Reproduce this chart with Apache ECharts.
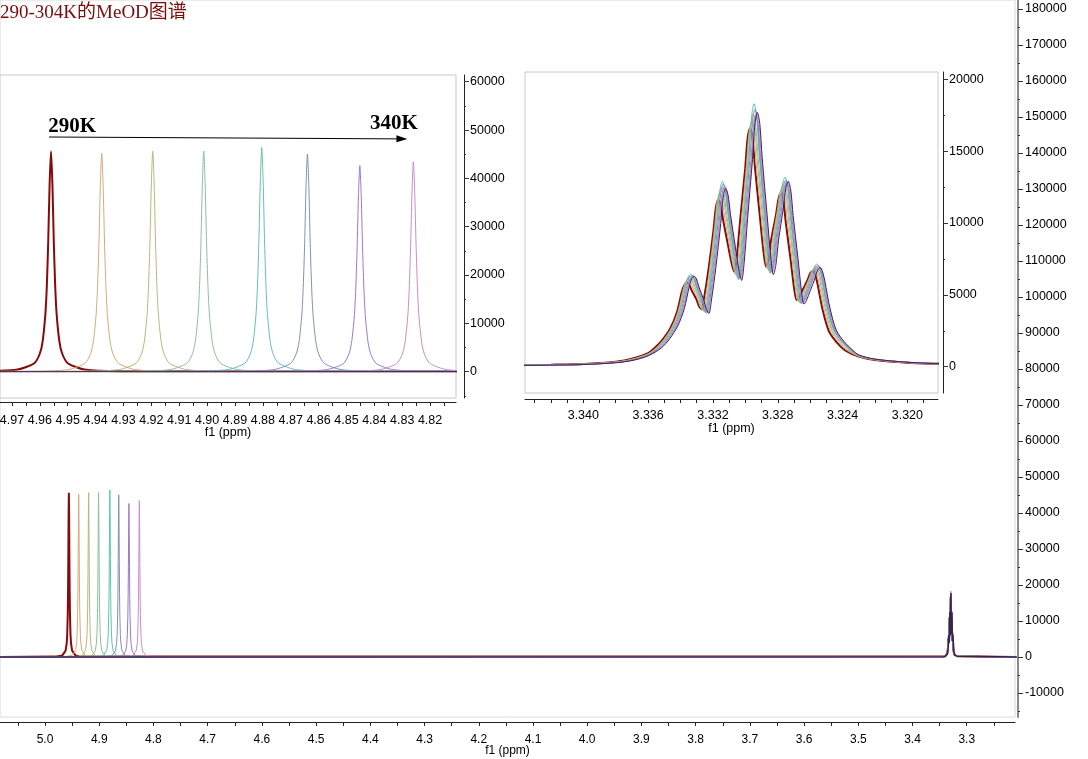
<!DOCTYPE html>
<html><head><meta charset="utf-8">
<script src="https://cdn.jsdelivr.net/npm/echarts@6/dist/echarts.min.js"></script>
<style>html,body{margin:0;padding:0;background:#fff}#c{width:1088px;height:759px}</style>
</head><body><div id="c"></div>
<script>
// ---------- data (ppm, intensity) ----------
const seriesNames = ['290K','297K','304K','311K','318K','325K','333K','340K','ref'];
const seriesColors = ['#870a0a','#d4aa78','#b5b87c','#8cc09c','#5fc2b2','#7d93b8','#9a78cc','#c98ccc','#34244f'];
const baseStart = [5.10, 0];
const baseEnd = [3.20, 0];

const oh290 = [[4.981,105],[4.968,451],[4.962,1756],[4.960,3767],[4.959,6293],[4.958,12084],[4.9575,17784],[4.957,26904],[4.9565,38851],[4.956,45600],[4.9555,38851],[4.955,26904],[4.9545,17784],[4.954,12084],[4.953,6293],[4.952,3767],[4.950,1756],[4.944,451],[4.931,105]];
const oh297 = [[4.9628,104],[4.9498,447],[4.9438,1740],[4.9418,3734],[4.9408,6238],[4.9398,11978],[4.9393,17628],[4.9388,26668],[4.9383,38510],[4.9378,45200],[4.9373,38510],[4.9368,26668],[4.9363,17628],[4.9358,11978],[4.9348,6238],[4.9338,3734],[4.9318,1740],[4.9258,447],[4.9128,104]];
const oh304 = [[4.9445,105],[4.9315,452],[4.9255,1758],[4.9235,3771],[4.9225,6300],[4.9215,12097],[4.9210,17804],[4.9205,26934],[4.9200,38894],[4.9195,45650],[4.9190,38894],[4.9185,26934],[4.9180,17804],[4.9175,12097],[4.9165,6300],[4.9155,3771],[4.9135,1758],[4.9075,452],[4.8945,105]];
const oh311 = [[4.9262,105],[4.9132,452],[4.9072,1758],[4.9052,3771],[4.9042,6300],[4.9032,12097],[4.9027,17804],[4.9022,26934],[4.9017,38894],[4.9012,45650],[4.9007,38894],[4.9002,26934],[4.8997,17804],[4.8992,12097],[4.8982,6300],[4.8972,3771],[4.8952,1758],[4.8892,452],[4.8762,105]];
const oh318 = [[4.9054,107],[4.8924,459],[4.8864,1786],[4.8844,3833],[4.8834,6403],[4.8824,12296],[4.8819,18096],[4.8814,27376],[4.8809,39533],[4.8804,46400],[4.8799,39533],[4.8794,27376],[4.8789,18096],[4.8784,12296],[4.8774,6403],[4.8764,3833],[4.8744,1786],[4.8684,459],[4.8554,107]];
const oh325 = [[4.8890,104],[4.8760,446],[4.8700,1734],[4.8680,3721],[4.8670,6217],[4.8660,11938],[4.8655,17570],[4.8650,26580],[4.8645,38383],[4.8640,45050],[4.8635,38383],[4.8630,26580],[4.8625,17570],[4.8620,11938],[4.8610,6217],[4.8600,3721],[4.8580,1734],[4.8520,446],[4.8390,104]];
const oh333 = [[4.8702,98],[4.8572,422],[4.8512,1642],[4.8492,3522],[4.8482,5884],[4.8472,11300],[4.8467,16630],[4.8462,25158],[4.8457,36329],[4.8452,42640],[4.8447,36329],[4.8442,25158],[4.8437,16630],[4.8432,11300],[4.8422,5884],[4.8412,3522],[4.8392,1642],[4.8332,422],[4.8202,98]];
const oh340 = [[4.8510,100],[4.8380,430],[4.8320,1673],[4.8300,3589],[4.8290,5996],[4.8280,11514],[4.8275,16946],[4.8270,25636],[4.8265,37019],[4.8260,43450],[4.8255,37019],[4.8250,25636],[4.8245,16946],[4.8240,11514],[4.8230,5996],[4.8220,3589],[4.8200,1673],[4.8140,430],[4.8010,100]];
const ohRef = [];

const quint290 = [[3.3440,120],[3.3420,140],[3.3400,190],[3.3380,350],[3.3370,550],[3.3360,950],[3.33562,1290],[3.33512,1870],[3.33462,2690],[3.33422,3800],[3.33392,5210],[3.33377,5670],[3.33362,5850],[3.33347,5720],[3.33332,5330],[3.33302,4680],[3.33285,4180],[3.33270,3990],[3.33255,4750],[3.33227,6810],[3.33197,9470],[3.33182,11070],[3.33167,11600],[3.33152,11250],[3.33137,10200],[3.33107,8460],[3.33083,7110],[3.33068,6610],[3.33053,7610],[3.33031,10310],[3.33001,13800],[3.32986,15900],[3.32971,16600],[3.32956,15930],[3.32941,13900],[3.32911,10530],[3.32887,7920],[3.32872,6960],[3.32857,7470],[3.32840,8850],[3.32810,10640],[3.32795,11710],[3.32780,12070],[3.32765,11550],[3.32750,9990],[3.32720,7390],[3.32698,5380],[3.32683,4640],[3.32668,4840],[3.32644,5390],[3.32614,6090],[3.32599,6520],[3.32584,6660],[3.32569,6390],[3.32554,5730],[3.32524,4000],[3.32484,2460],[3.32434,1670],[3.32384,1130],[3.3230,700],[3.3220,470],[3.3200,280],[3.3180,200]];
const quint297 = [[3.3440,110],[3.3420,130],[3.3400,180],[3.3380,330],[3.3370,520],[3.3360,900],[3.33554,1280],[3.33504,1890],[3.33454,2750],[3.33414,3900],[3.33384,5370],[3.33369,5920],[3.33354,6100],[3.33339,5950],[3.33324,5480],[3.33294,4710],[3.33277,4120],[3.33262,3900],[3.33247,4720],[3.33219,6930],[3.33189,9800],[3.33174,11530],[3.33159,12100],[3.33144,11700],[3.33129,10500],[3.33099,8510],[3.33075,6970],[3.33060,6400],[3.33045,7460],[3.33023,10320],[3.32993,14030],[3.32978,16260],[3.32963,17000],[3.32948,16290],[3.32933,14140],[3.32903,10570],[3.32879,7820],[3.32864,6800],[3.32849,7370],[3.32832,8910],[3.32802,10900],[3.32787,12100],[3.32772,12500],[3.32757,11940],[3.32742,10270],[3.32712,7490],[3.32690,5350],[3.32675,4550],[3.32660,4780],[3.32636,5380],[3.32606,6170],[3.32591,6640],[3.32576,6800],[3.32561,6530],[3.32546,5850],[3.32516,4080],[3.32476,2520],[3.32426,1700],[3.32376,1160],[3.3230,720],[3.3220,480],[3.3200,285],[3.3180,205]];
const quint304 = [[3.3440,110],[3.3420,130],[3.3400,175],[3.3380,320],[3.3370,500],[3.3360,870],[3.33547,1300],[3.33497,1920],[3.33447,2790],[3.33407,3970],[3.33377,5460],[3.33362,6010],[3.33347,6200],[3.33332,6040],[3.33317,5540],[3.33287,4720],[3.33270,4090],[3.33255,3850],[3.33240,4700],[3.33212,6980],[3.33182,9930],[3.33167,11710],[3.33152,12300],[3.33137,11880],[3.33122,10620],[3.33092,8520],[3.33068,6900],[3.33053,6300],[3.33038,7400],[3.33016,10370],[3.32986,14220],[3.32971,16530],[3.32956,17300],[3.32941,16560],[3.32926,14330],[3.32896,10620],[3.32872,7760],[3.32857,6700],[3.32842,7300],[3.32825,8920],[3.32795,11020],[3.32780,12280],[3.32765,12700],[3.32750,12130],[3.32735,10400],[3.32705,7530],[3.32683,5320],[3.32668,4500],[3.32653,4740],[3.32629,5390],[3.32599,6230],[3.32584,6730],[3.32569,6900],[3.32554,6620],[3.32539,5930],[3.32509,4140],[3.32469,2550],[3.32419,1730],[3.32369,1170],[3.3230,740],[3.3220,490],[3.3200,290],[3.3180,205]];
const quint311 = [[3.3440,105],[3.3420,125],[3.3400,170],[3.3380,310],[3.3370,490],[3.3360,850],[3.33542,1320],[3.33492,1950],[3.33442,2840],[3.33402,4030],[3.33372,5540],[3.33357,6110],[3.33342,6300],[3.33327,6130],[3.33312,5600],[3.33282,4730],[3.33265,4050],[3.33250,3800],[3.33235,4670],[3.33207,7020],[3.33177,10060],[3.33162,11890],[3.33147,12500],[3.33132,12060],[3.33117,10740],[3.33087,8530],[3.33063,6830],[3.33048,6200],[3.33033,7340],[3.33011,10420],[3.32981,14410],[3.32966,16800],[3.32951,17600],[3.32936,16830],[3.32921,14530],[3.32891,10700],[3.32867,7750],[3.32852,6650],[3.32837,7280],[3.32820,8960],[3.32790,11150],[3.32775,12460],[3.32760,12900],[3.32745,12310],[3.32730,10530],[3.32700,7580],[3.32678,5300],[3.32663,4450],[3.32648,4710],[3.32624,5390],[3.32594,6290],[3.32579,6820],[3.32564,7000],[3.32549,6720],[3.32534,6020],[3.32504,4200],[3.32464,2590],[3.32414,1750],[3.32364,1190],[3.3230,760],[3.3220,500],[3.3200,295],[3.3180,210]];
const quint318 = [[3.3440,100],[3.3420,120],[3.3400,165],[3.3380,300],[3.3370,470],[3.3360,820],[3.33537,1350],[3.33487,2000],[3.33437,2900],[3.33397,4130],[3.33367,5680],[3.33352,6260],[3.33337,6450],[3.33322,6260],[3.33307,5690],[3.33277,4750],[3.33260,4020],[3.33245,3750],[3.33230,4670],[3.33202,7140],[3.33172,10340],[3.33157,12260],[3.33142,12900],[3.33127,12420],[3.33112,10980],[3.33082,8590],[3.33058,6740],[3.33043,6050],[3.33028,7280],[3.33006,10580],[3.32976,14870],[3.32961,17440],[3.32946,18300],[3.32931,17470],[3.32916,15000],[3.32886,10870],[3.32862,7680],[3.32847,6500],[3.32832,7170],[3.32815,8980],[3.32785,11320],[3.32770,12730],[3.32755,13200],[3.32740,12580],[3.32725,10740],[3.32695,7660],[3.32673,5280],[3.32658,4400],[3.32643,4680],[3.32619,5420],[3.32589,6380],[3.32574,6960],[3.32559,7150],[3.32544,6860],[3.32529,6150],[3.32499,4290],[3.32459,2650],[3.32409,1790],[3.32359,1220],[3.3230,780],[3.3220,510],[3.3200,300],[3.3180,215]];
const quint325 = [[3.3440,100],[3.3420,120],[3.3400,160],[3.3380,295],[3.3370,460],[3.3360,800],[3.33532,1330],[3.33482,1970],[3.33432,2860],[3.33392,4060],[3.33362,5590],[3.33347,6160],[3.33332,6350],[3.33317,6170],[3.33302,5620],[3.33272,4710],[3.33255,4010],[3.33240,3750],[3.33225,4650],[3.33197,7060],[3.33167,10190],[3.33152,12070],[3.33137,12700],[3.33122,12240],[3.33107,10850],[3.33077,8540],[3.33053,6760],[3.33038,6100],[3.33023,7280],[3.33001,10470],[3.32971,14600],[3.32956,17070],[3.32941,17900],[3.32926,17110],[3.32911,14720],[3.32881,10750],[3.32857,7690],[3.32842,6550],[3.32827,7200],[3.32810,8940],[3.32780,11190],[3.32765,12550],[3.32750,13000],[3.32735,12400],[3.32720,10590],[3.32690,7580],[3.32668,5260],[3.32653,4400],[3.32638,4670],[3.32614,5380],[3.32584,6310],[3.32569,6860],[3.32554,7050],[3.32539,6770],[3.32524,6060],[3.32494,4230],[3.32454,2610],[3.32404,1760],[3.32354,1200],[3.3230,790],[3.3220,515],[3.3200,305],[3.3180,215]];
const quint333 = [[3.3440,95],[3.3420,115],[3.3400,155],[3.3380,285],[3.3370,450],[3.3360,780],[3.33526,1320],[3.33476,1950],[3.33426,2840],[3.33386,4030],[3.33356,5540],[3.33341,6110],[3.33326,6300],[3.33311,6130],[3.33296,5600],[3.33266,4730],[3.33249,4050],[3.33234,3800],[3.33219,4670],[3.33191,7020],[3.33161,10060],[3.33146,11890],[3.33131,12500],[3.33116,12060],[3.33101,10740],[3.33071,8530],[3.33047,6830],[3.33032,6200],[3.33017,7330],[3.32995,10380],[3.32965,14340],[3.32950,16710],[3.32935,17500],[3.32920,16740],[3.32905,14460],[3.32875,10670],[3.32851,7740],[3.32836,6650],[3.32821,7280],[3.32804,8960],[3.32774,11150],[3.32759,12460],[3.32744,12900],[3.32729,12310],[3.32714,10530],[3.32684,7580],[3.32662,5300],[3.32647,4450],[3.32632,4710],[3.32608,5390],[3.32578,6290],[3.32563,6820],[3.32548,7000],[3.32533,6720],[3.32518,6020],[3.32488,4200],[3.32448,2590],[3.32398,1750],[3.32348,1190],[3.3230,800],[3.3220,520],[3.3200,310],[3.3180,220]];
const quint340 = [[3.3440,95],[3.3420,115],[3.3400,150],[3.3380,280],[3.3370,440],[3.3360,770],[3.33522,1330],[3.33472,1970],[3.33422,2860],[3.33382,4060],[3.33352,5590],[3.33337,6160],[3.33322,6350],[3.33307,6170],[3.33292,5630],[3.33262,4730],[3.33245,4040],[3.33230,3780],[3.33215,4660],[3.33187,7040],[3.33157,10130],[3.33142,11980],[3.33127,12600],[3.33112,12150],[3.33097,10790],[3.33067,8540],[3.33043,6800],[3.33028,6150],[3.33013,7300],[3.32991,10390],[3.32961,14390],[3.32946,16800],[3.32931,17600],[3.32916,16830],[3.32901,14520],[3.32871,10670],[3.32847,7700],[3.32832,6600],[3.32817,7230],[3.32800,8930],[3.32770,11140],[3.32755,12460],[3.32740,12900],[3.32725,12310],[3.32710,10530],[3.32680,7560],[3.32658,5270],[3.32643,4420],[3.32628,4680],[3.32604,5380],[3.32574,6280],[3.32559,6820],[3.32544,7000],[3.32529,6720],[3.32514,6020],[3.32484,4200],[3.32444,2590],[3.32394,1750],[3.32344,1190],[3.3230,810],[3.3220,525],[3.3200,310],[3.3180,220]];
const quintRef = [[3.3440,90],[3.3420,110],[3.3400,150],[3.3380,275],[3.3370,430],[3.3360,760],[3.33517,1320],[3.33467,1950],[3.33417,2840],[3.33377,4030],[3.33347,5540],[3.33332,6110],[3.33317,6300],[3.33302,6120],[3.33287,5570],[3.33257,4660],[3.33240,3960],[3.33225,3700],[3.33210,4570],[3.33182,6920],[3.33152,9960],[3.33137,11790],[3.33122,12400],[3.33107,11950],[3.33092,10610],[3.33062,8370],[3.33038,6640],[3.33023,6000],[3.33008,7170],[3.32986,10330],[3.32956,14420],[3.32941,16880],[3.32926,17700],[3.32911,16910],[3.32896,14540],[3.32866,10580],[3.32842,7530],[3.32827,6400],[3.32812,7050],[3.32795,8810],[3.32765,11080],[3.32750,12450],[3.32735,12900],[3.32720,12300],[3.32705,10510],[3.32675,7510],[3.32653,5210],[3.32638,4350],[3.32623,4610],[3.32599,5290],[3.32569,6190],[3.32554,6720],[3.32539,6900],[3.32524,6620],[3.32509,5930],[3.32479,4140],[3.32439,2550],[3.32389,1730],[3.32339,1170],[3.3230,820],[3.3220,530],[3.3200,315],[3.3180,225]];

const ohList = [oh290, oh297, oh304, oh311, oh318, oh325, oh333, oh340, ohRef];
const quintList = [quint290, quint297, quint304, quint311, quint318, quint325, quint333, quint340, quintRef];

// tick / label values
const mainXTicks = [3.25,3.3,3.35,3.4,3.45,3.5,3.55,3.6,3.65,3.7,3.75,3.8,3.85,3.9,3.95,4.0,4.05,4.1,4.15,4.2,4.25,4.3,4.35,4.4,4.45,4.5,4.55,4.6,4.65,4.7,4.75,4.8,4.85,4.9,4.95,5.0,5.05];
const mainXLabels = [3.3,3.4,3.5,3.6,3.7,3.8,3.9,4.0,4.1,4.2,4.3,4.4,4.5,4.6,4.7,4.8,4.9,5.0];
const leftXTicks = [4.815,4.82,4.825,4.83,4.835,4.84,4.845,4.85,4.855,4.86,4.865,4.87,4.875,4.88,4.885,4.89,4.895,4.9,4.905,4.91,4.915,4.92,4.925,4.93,4.935,4.94,4.945,4.95,4.955,4.96,4.965,4.97];
const leftXLabels = [4.82,4.83,4.84,4.85,4.86,4.87,4.88,4.89,4.9,4.91,4.92,4.93,4.94,4.95,4.96,4.97];
const rightXTicks = [3.319,3.32,3.321,3.322,3.323,3.324,3.325,3.326,3.327,3.328,3.329,3.33,3.331,3.332,3.333,3.334,3.335,3.336,3.337,3.338,3.339,3.34,3.341,3.342,3.343];
const rightXLabels = [3.32,3.324,3.328,3.332,3.336,3.34];
const mainYLabels = [-10000,0,10000,20000,30000,40000,50000,60000,70000,80000,90000,100000,110000,120000,130000,140000,150000,160000,170000,180000];
const mainYMinor = [-15000,-5000,5000,15000,25000,35000,45000,55000,65000,75000,85000,95000,105000,115000,125000,135000,145000,155000,165000,175000];
const leftYLabels = [0,10000,20000,30000,40000,50000,60000];
const leftYMinor = [-5000,5000,15000,25000,35000,45000,55000];
const rightYLabels = [0,5000,10000,15000,20000];
const rightYMinor = [2500,7500,12500,17500];

// annotation
const arrowFrom = [4.9567, 48560];
const arrowTo = [4.8301, 48170];
const annoLabels = [{name:'290K', coord:[4.9484, 50630]}, {name:'340K', coord:[4.8330, 51400]}];

// ---------- chart ----------
const SANS = "'Liberation Sans', Arial, sans-serif";
const SERIF = "'Liberation Serif', 'Times New Roman', 'Noto Sans CJK SC', serif";

function xAxisDef(grid, min, max, ticks, labels, dec, offset, margin, nameGap, fs) {
  return {
    type: 'value', gridIndex: grid, inverse: true, min: min, max: max, position: 'bottom', offset: offset,
    axisLine: { show: true, onZero: false, lineStyle: { color: '#222', width: 1 } },
    axisTick: { show: true, length: 4, customValues: ticks, lineStyle: { color: '#222' } },
    axisLabel: { show: true, customValues: labels, formatter: v => Number(v).toFixed(dec), margin: margin,
      fontSize: fs, color: '#000', fontFamily: SANS },
    splitLine: { show: false },
    name: 'f1 (ppm)', nameLocation: 'middle', nameGap: nameGap, nameMoveOverlap: false,
    nameTextStyle: { fontSize: fs, color: '#000', fontFamily: SANS }
  };
}
function yAxisDef(grid, min, max, ticks, offset, showLabels, lineColor, lineWidth, tickLen, margin) {
  return {
    type: 'value', gridIndex: grid, position: 'right', min: min, max: max, offset: offset,
    axisLine: { show: showLabels, onZero: false, lineStyle: { color: lineColor, width: lineWidth } },
    axisTick: { show: true, inside: false, length: tickLen, customValues: ticks, lineStyle: { color: '#333' } },
    axisLabel: { show: showLabels, customValues: ticks, formatter: v => String(Math.round(v)), margin: margin,
      fontSize: 12.5, color: '#000', fontFamily: SANS },
    splitLine: { show: false }
  };
}

const gridStyle = { show: true, borderColor: '#c8c8c8', borderWidth: 1, backgroundColor: '#fff', containLabel: false, outerBoundsMode: 'none' };

const series = [];
seriesNames.forEach((nm, i) => {
  const data = [baseStart].concat(ohList[i], quintList[i], [baseEnd]);
  const width = i === 0 ? 2 : 1;
  [0, 1, 2].forEach(g => {
    const s = {
      type: 'line', name: nm, xAxisIndex: g, yAxisIndex: [0, 2, 4][g], data: data,
      showSymbol: false, symbol: 'none', silent: true, animation: false, clip: true,
      smooth: g === 0 ? false : (g === 2 ? 0.3 : 0.25),
      lineStyle: { color: seriesColors[i], width: (g === 0 && i === 8) ? 1.5 : width },
      z: 2 + i * 0.01
    };
    if (g === 1 && i === 0) {
      s.markLine = {
        silent: true, animation: false, symbol: ['none', 'triangle'], symbolSize: [7, 11],
        lineStyle: { color: '#000', width: 1, type: 'solid' }, label: { show: false },
        data: [[{ coord: arrowFrom }, { coord: arrowTo }]]
      };
      s.markPoint = {
        silent: true, animation: false, symbol: 'rect', symbolSize: 1,
        itemStyle: { color: 'rgba(0,0,0,0)' },
        label: { show: true, position: 'inside', formatter: '{b}', fontFamily: SERIF, fontWeight: 'bold', fontSize: 21, color: '#000' },
        data: annoLabels
      };
    }
    series.push(s);
  });
});

const option = {
  animation: false,
  backgroundColor: '#fff',
  title: {
    text: '290-304K的MeOD图谱', left: 0, top: 4, padding: 0,
    textStyle: { fontFamily: SERIF, fontSize: 19, fontWeight: 'normal', color: '#7a0c0c' }
  },
  grid: [
    Object.assign({ left: 0, top: 0, width: 1015, height: 717 }, gridStyle, { borderColor: '#d8d8d8' }),
    Object.assign({ left: 0, top: 75, width: 456, height: 323 }, gridStyle),
    Object.assign({ left: 525, top: 72, width: 413, height: 321 }, gridStyle)
  ],
  xAxis: [
    xAxisDef(0, 3.211, 5.083, mainXTicks, mainXLabels, 1, 5, 12, 23, 12),
    xAxisDef(1, 4.8107, 4.9743, leftXTicks, leftXLabels, 2, 4, 12, 24, 12.5),
    xAxisDef(2, 3.31811, 3.3436, rightXTicks, rightXLabels, 3, 6, 10, 23, 12.5)
  ],
  yAxis: [
    yAxisDef(0, -16667, 182500, mainYLabels, 3, true, '#8a8a8a', 2, 5, 7),
    yAxisDef(0, -16667, 182500, mainYMinor, 3, false, '#8a8a8a', 2, 2, 7),
    yAxisDef(1, -5440, 61390, leftYLabels, 8, true, '#222', 1, 5, 6),
    yAxisDef(1, -5440, 61390, leftYMinor, 8, false, '#222', 1, 2, 6),
    yAxisDef(2, -1830, 20508, rightYLabels, 5, true, '#222', 1, 5, 6),
    yAxisDef(2, -1830, 20508, rightYMinor, 5, false, '#222', 1, 2, 6)
  ],
  series: series
};

const chart = echarts.init(document.getElementById('c'), null, { renderer: 'canvas' });
chart.setOption(option);
</script>
</body></html>
